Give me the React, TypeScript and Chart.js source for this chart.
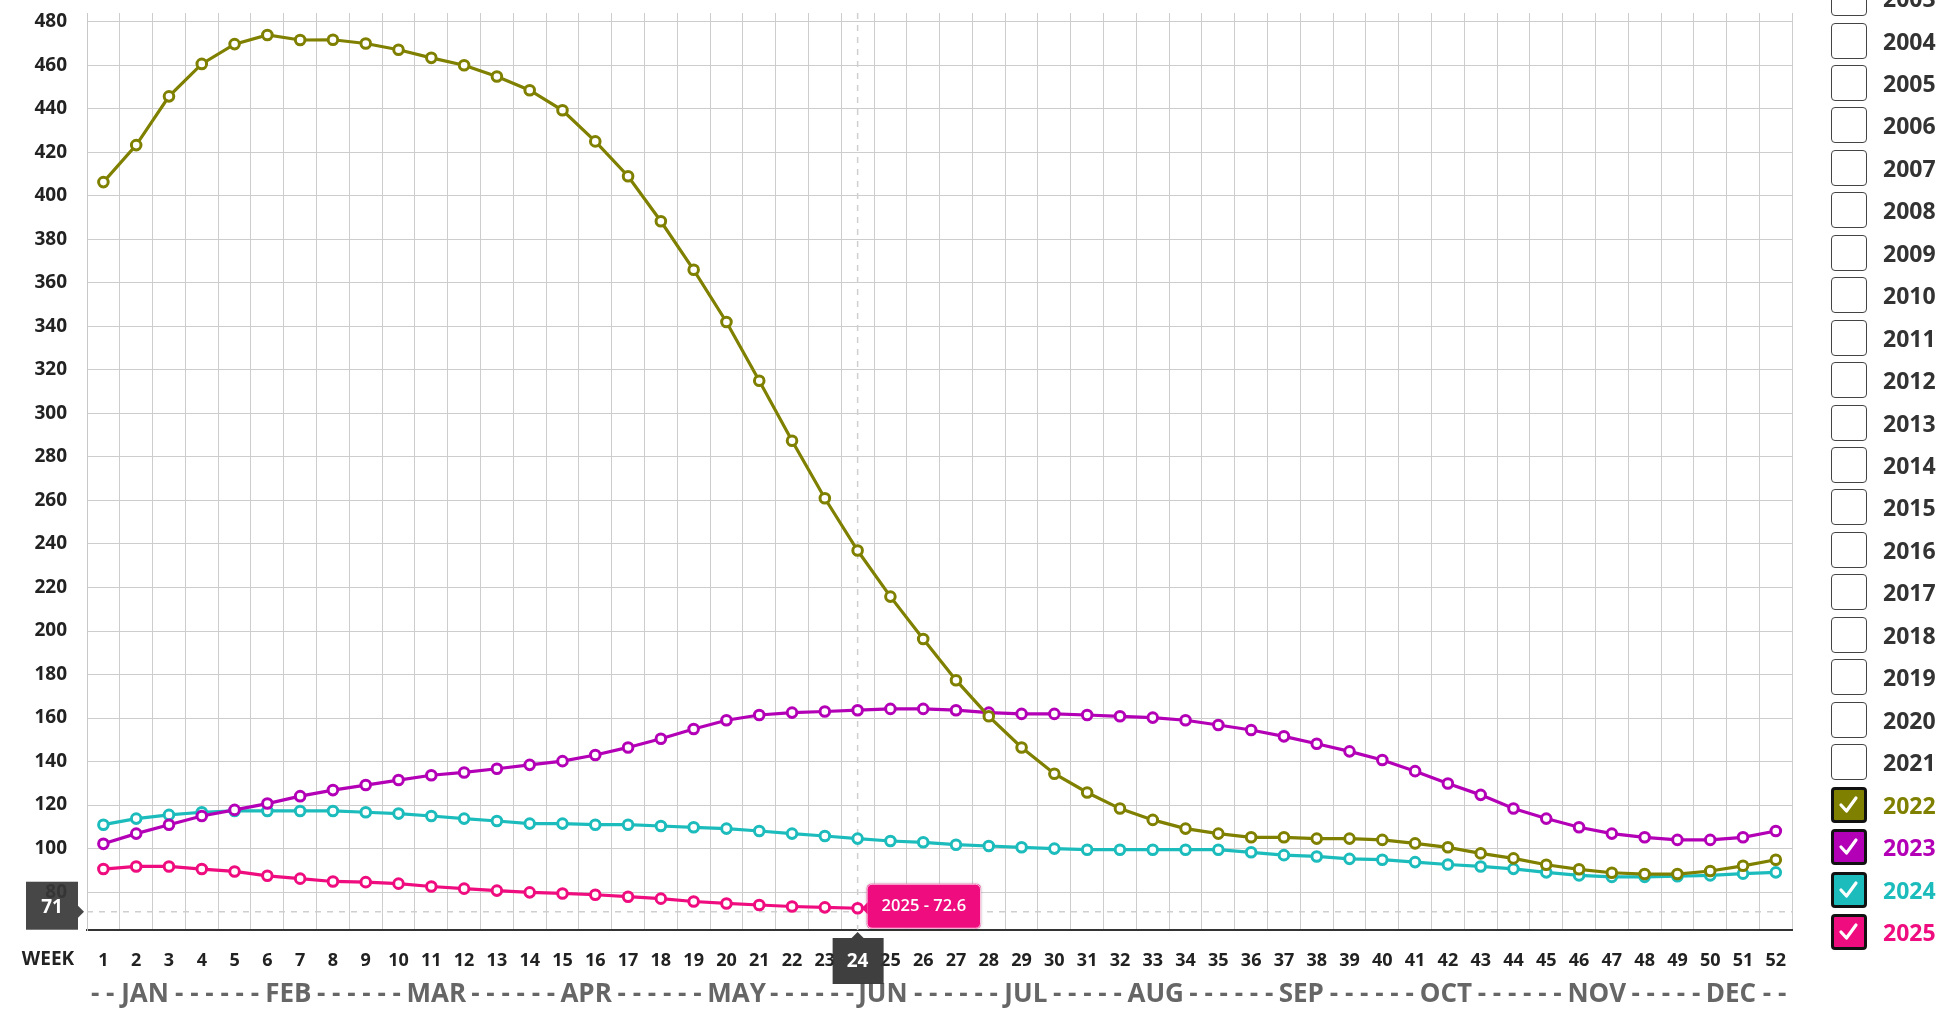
import React, { useEffect, useRef } from "react";
import { Chart, registerables } from "chart.js";
Chart.register(...registerables);

const weeks = ["1","2","3","4","5","6","7","8","9","10","11","12","13","14","15","16","17","18","19","20","21","22","23","24","25","26","27","28","29","30","31","32","33","34","35","36","37","38","39","40","41","42","43","44","45","46","47","48","49","50","51","52"];

const y2022 = [406.3,423.3,445.7,460.6,469.7,473.9,471.6,471.7,470.0,467.1,463.4,460.0,454.8,448.5,439.3,425.0,409.0,388.3,366.0,342.0,315.0,287.4,261.0,237.0,215.8,196.3,177.4,160.8,146.5,134.4,125.8,118.4,113.2,109.2,106.9,105.2,105.2,104.6,104.6,104.0,102.4,100.6,97.8,95.5,92.6,90.5,88.9,88.3,88.3,89.7,92.1,94.9];
const y2023 = [102.2,106.9,111.0,115.0,117.8,120.7,124.1,126.9,129.2,131.5,133.7,135.0,136.7,138.5,140.2,143.0,146.5,150.5,155.0,159.0,161.4,162.5,163.0,163.6,164.2,164.2,163.6,162.5,161.9,161.9,161.4,160.8,160.2,159.0,156.8,154.5,151.6,148.2,144.7,140.7,135.6,129.9,124.7,118.4,113.8,109.8,106.9,105.2,104.0,104.0,105.2,108.1];
const y2024 = [111.0,113.8,115.5,116.7,117.3,117.3,117.3,117.3,116.7,116.1,115.0,113.8,112.7,111.5,111.5,111.0,111.0,110.4,109.8,109.2,108.1,106.9,105.8,104.6,103.5,102.9,101.8,101.2,100.6,100.0,99.5,99.5,99.5,99.5,99.5,98.3,97.0,96.4,95.3,94.9,93.8,92.7,91.8,90.7,89.1,87.7,87.0,87.0,87.3,87.7,88.5,89.1];
const y2025 = [90.6,91.8,91.8,90.6,89.5,87.5,86.2,84.9,84.6,83.9,82.6,81.6,80.7,79.9,79.4,78.8,77.9,77.0,75.7,74.8,74.1,73.4,73.0,72.6];

const seriesNames = ["2022", "2023", "2024", "2025"];
const seriesColors = ["#808000", "#b300b6", "#1dbcbc", "#ef0c7f"];

const yTicks = [80,100,120,140,160,180,200,220,240,260,280,300,320,340,360,380,400,420,440,460,480];
const yMin = 62.6;
const yMax = 484;

const months = ["JAN","FEB","MAR","APR","MAY","JUN","JUL","AUG","SEP","OCT","NOV","DEC"];
const monthAnchors = [2.27,6.64,11.15,15.72,20.31,24.77,29.13,33.09,37.53,41.94,46.54,50.63];
const monthDashes = [6,6,6,6,6,6,5,6,6,6,5];

const legendYears = ["2003","2004","2005","2006","2007","2008","2009","2010","2011","2012","2013","2014","2015","2016","2017","2018","2019","2020","2021","2022","2023","2024","2025"];

const crossWeekIndex = 23;
const crossYValue = 71;
const tooltipSeries = 3;

const FONT = "'Open Sans', 'DejaVu Sans', sans-serif";

const overlayPlugin = {
  id: "overlay",
  beforeDatasetsDraw(chart: any) {
    const { ctx, chartArea, scales } = chart;
    const x = scales.x.getPixelForValue(crossWeekIndex);
    const y = scales.y.getPixelForValue(crossYValue);
    ctx.save();
    ctx.strokeStyle = "#cfcfcf";
    ctx.lineWidth = 1.5;
    ctx.setLineDash([6, 6]);
    ctx.beginPath();
    ctx.moveTo(x, chartArea.top);
    ctx.lineTo(x, chartArea.bottom);
    ctx.moveTo(chartArea.left, y);
    ctx.lineTo(chartArea.right, y);
    ctx.stroke();
    ctx.restore();
  },
  afterDraw(chart: any) {
    const { ctx, chartArea, scales } = chart;
    const xs = scales.x;
    const pxAt = (w: number) => {
      const a = xs.getPixelForValue(0);
      const b = xs.getPixelForValue(1);
      return a + (w - 1) * (b - a);
    };
    ctx.save();
    // WEEK label
    ctx.font = `bold 19px ${FONT}`;
    ctx.fillStyle = "#222";
    ctx.textAlign = "center";
    ctx.textBaseline = "middle";
    ctx.fillText("WEEK", 48, 960);

    // Month line
    ctx.font = `bold 26px ${FONT}`;
    ctx.fillStyle = "#666";
    ctx.textBaseline = "alphabetic";
    const base = 1002;
    const dashStr = (n: number) => Array(n).fill("-").join(" ");
    const centers = monthAnchors.map(pxAt);
    const widths = months.map((m) => ctx.measureText(m).width);
    months.forEach((m, i) => {
      ctx.textAlign = "center";
      ctx.fillText(m, centers[i], base);
    });
    for (let i = 0; i < months.length - 1; i++) {
      const l = centers[i] + widths[i] / 2;
      const r = centers[i + 1] - widths[i + 1] / 2;
      ctx.textAlign = "center";
      ctx.fillText(dashStr(monthDashes[i]), (l + r) / 2, base);
    }
    const sp = ctx.measureText(" ").width;
    ctx.textAlign = "right";
    ctx.fillText(dashStr(2), centers[0] - widths[0] / 2 - sp, base);
    ctx.textAlign = "left";
    ctx.fillText(dashStr(2), centers[11] + widths[11] / 2 + sp, base);

    // Y crosshair label box
    const cy = scales.y.getPixelForValue(crossYValue);
    const bx1 = 26, bx2 = chartArea.left - 9;
    ctx.fillStyle = "rgba(55,55,55,0.92)";
    ctx.fillRect(bx1, cy - 30, bx2 - bx1, 48);
    ctx.beginPath();
    ctx.moveTo(bx2, cy - 6);
    ctx.lineTo(bx2 + 6, cy);
    ctx.lineTo(bx2, cy + 6);
    ctx.closePath();
    ctx.fill();
    ctx.fillStyle = "#fff";
    ctx.font = `bold 19px ${FONT}`;
    ctx.textAlign = "center";
    ctx.textBaseline = "middle";
    ctx.fillText(String(crossYValue), (bx1 + bx2) / 2, cy - 4);

    // X crosshair label box
    const cx = xs.getPixelForValue(crossWeekIndex);
    const top = chartArea.bottom + 8;
    ctx.fillStyle = "rgba(55,55,55,0.96)";
    ctx.fillRect(cx - 25, top, 51, 46);
    ctx.beginPath();
    ctx.moveTo(cx - 6, top);
    ctx.lineTo(cx, top - 6);
    ctx.lineTo(cx + 6, top);
    ctx.closePath();
    ctx.fill();
    ctx.fillStyle = "#fff";
    ctx.fillText(weeks[crossWeekIndex], cx, top + 24);

    // Tooltip
    const meta = chart.getDatasetMeta(tooltipSeries);
    const pt = meta.data[crossWeekIndex];
    const val = chart.data.datasets[tooltipSeries].data[crossWeekIndex];
    const text = `${seriesNames[tooltipSeries]} - ${val}`;
    ctx.font = `600 16.5px ${FONT}`;
    const tw = ctx.measureText(text).width;
    const tl = pt.x + 9;
    const tH = 45;
    const tt = pt.y - tH / 2 - 2;
    const tWd = Math.max(tw + 30, 112);
    ctx.save();
    ctx.shadowColor = "rgba(0,0,0,0.25)";
    ctx.shadowBlur = 3;
    ctx.fillStyle = seriesColors[tooltipSeries];
    ctx.beginPath();
    (ctx as any).roundRect(tl, tt, tWd, tH, 5);
    ctx.fill();
    ctx.restore();
    ctx.strokeStyle = "rgba(255,255,255,0.8)";
    ctx.lineWidth = 1;
    ctx.beginPath();
    (ctx as any).roundRect(tl + 0.5, tt + 0.5, tWd - 1, tH - 1, 5);
    ctx.stroke();
    ctx.fillStyle = seriesColors[tooltipSeries];
    ctx.beginPath();
    ctx.moveTo(tl + 1, pt.y - 6);
    ctx.lineTo(tl - 5, pt.y);
    ctx.lineTo(tl + 1, pt.y + 6);
    ctx.closePath();
    ctx.fill();
    ctx.fillStyle = "#fff";
    ctx.textAlign = "center";
    ctx.textBaseline = "middle";
    ctx.fillText(text, tl + tWd / 2, tt + tH / 2);
    ctx.restore();
  },
};

function Legend() {
  return (
    <div style={{ position: "absolute", left: 0, top: 0, width: 1952, height: 1010, pointerEvents: "none" }}>
      {legendYears.map((yr, i) => {
        const cyc = 40.5 + (i - 1) * 42.45;
        const si = seriesNames.indexOf(yr);
        const checked = si >= 0;
        const col = checked ? seriesColors[si] : "#333";
        return (
          <div key={yr} style={{ position: "absolute", left: 1831, top: cyc - 18, height: 36, display: "flex", alignItems: "center" }}>
            <div
              style={{
                width: 36,
                height: 36,
                boxSizing: "border-box",
                border: checked ? "3px solid #111" : "1.5px solid #444",
                borderRadius: 4,
                background: checked ? col : "#fff",
                display: "flex",
                alignItems: "center",
                justifyContent: "center",
              }}
            >
              {checked ? (
                <svg width="30" height="30" viewBox="0 0 30 30">
                  <polyline points="7,15 12.5,21 22,8" fill="none" stroke="#fff" strokeWidth="3.2" strokeLinecap="round" strokeLinejoin="round" />
                </svg>
              ) : null}
            </div>
            <span style={{ marginLeft: 16, font: `bold 23px ${FONT}`, color: col, lineHeight: "36px" }}>{yr}</span>
          </div>
        );
      })}
    </div>
  );
}

export default function App() {
  const ref = useRef<HTMLCanvasElement | null>(null);
  useEffect(() => {
    if (!ref.current) return;
    const all = [y2022, y2023, y2024, y2025];
    const chart = new Chart(ref.current, {
      type: "line",
      data: {
        labels: weeks,
        datasets: all.map((d, i) => ({
          label: seriesNames[i],
          data: d,
          borderColor: seriesColors[i],
          backgroundColor: "#fff",
          borderWidth: 3.2,
          pointRadius: 4.8,
          pointBorderWidth: 3,
          pointBackgroundColor: "#fff",
          pointBorderColor: seriesColors[i],
          tension: 0,
          fill: false,
        })),
      },
      options: {
        responsive: false,
        animation: false,
        events: [],
        layout: { padding: { top: 13, right: 5.5, left: 0, bottom: 0 } },
        plugins: { legend: { display: false }, tooltip: { enabled: false } },
        scales: {
          x: {
            offset: true,
            grid: { offset: true, color: "#cdcdcd", lineWidth: 1, drawTicks: false },
            border: { color: "#333", width: 2 },
            ticks: {
              autoSkip: false,
              maxRotation: 0,
              padding: 20,
              color: "#222",
              font: { family: FONT, size: 18, weight: "bold" },
            },
            afterFit: (s: any) => { s.height = 80; s.paddingLeft = 0; s.paddingRight = 0; },
          },
          y: {
            min: yMin,
            max: yMax,
            grid: { color: "#cdcdcd", lineWidth: 1, drawTicks: false },
            border: { color: "#c8c8c8", width: 1 },
            afterBuildTicks: (s: any) => { s.ticks = yTicks.map((v) => ({ value: v })); },
            ticks: {
              padding: 20,
              color: "#222",
              font: { family: FONT, size: 19, weight: "bold" },
            },
            afterFit: (s: any) => { s.width = 87; s.paddingTop = 0; s.paddingBottom = 0; },
          },
        },
      },
      plugins: [overlayPlugin],
    } as any);
    return () => chart.destroy();
  }, []);
  return (
    <div style={{ position: "fixed", left: 0, top: 0, width: 1952, height: 1010, background: "#fff", overflow: "hidden" }}>
      <canvas ref={ref} width={1800} height={1010} style={{ position: "absolute", left: 0, top: 0, width: 1800, height: 1010 }} />
      <Legend />
    </div>
  );
}
